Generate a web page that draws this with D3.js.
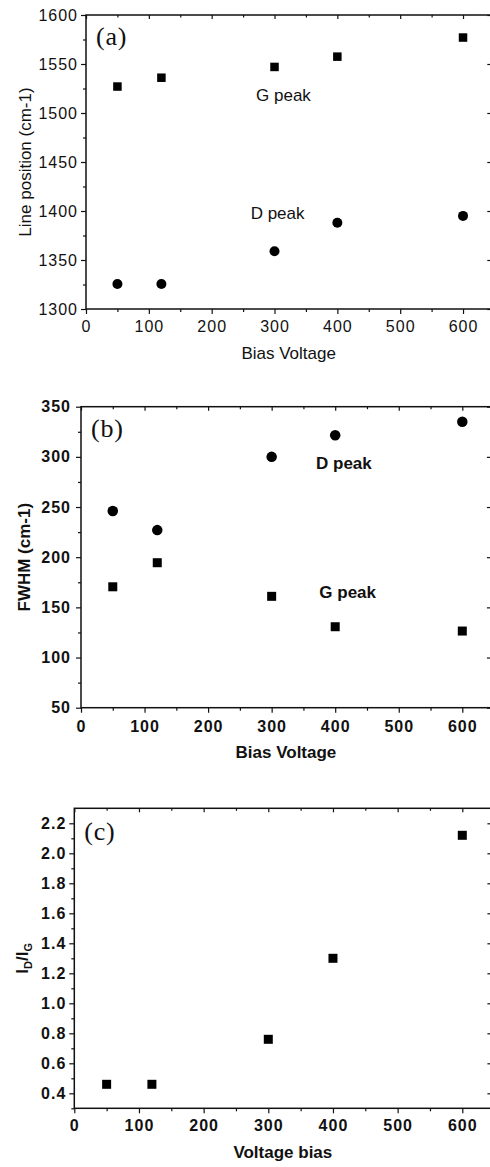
<!DOCTYPE html>
<html>
<head>
<meta charset="utf-8">
<script src="https://cdn.jsdelivr.net/npm/d3@7"></script>
<style>
  html, body { margin: 0; padding: 0; background: #fff; }
  svg { display: block; }
</style>
</head>
<body>
<svg id="chart" width="490" height="1167"></svg>
<script>
// Raman fit results versus substrate bias voltage
const biasVoltage = [50, 120, 300, 400, 600];
const gPeakPosition = [1527, 1536, 1547, 1557.5, 1577];
const dPeakPosition = [1325.5, 1325.5, 1359, 1388, 1395];
const dPeakFwhm = [246, 227, 300, 321.5, 335];
const gPeakFwhm = [170.5, 194.5, 161, 130.7, 126.4];
const intensityRatio = [0.46, 0.46, 0.76, 1.30, 2.12];

// Tick values
const voltageTicks = [0, 100, 200, 300, 400, 500, 600];
const voltageMinorTicks = [50, 150, 250, 350, 450, 550];
const positionTicks = [1300, 1350, 1400, 1450, 1500, 1550, 1600];
const positionMinorTicks = [1325, 1375, 1425, 1475, 1525, 1575];
const fwhmTicks = [50, 100, 150, 200, 250, 300, 350];
const fwhmMinorTicks = [75, 125, 175, 225, 275, 325];
const ratioTicks = [0.4, 0.6, 0.8, 1.0, 1.2, 1.4, 1.6, 1.8, 2.0, 2.2];
const ratioMinorTicks = [0.3, 0.5, 0.7, 0.9, 1.1, 1.3, 1.5, 1.7, 1.9, 2.1];

const svg = d3.select("#chart");
const SANS = "'Liberation Sans', Arial, Helvetica, sans-serif";
const SERIF = "'Liberation Serif', 'Times New Roman', serif";
const INK = "#111";

function styleAxis(sel, weight) {
  sel.select(".domain").remove();
  sel.selectAll(".tick line").attr("stroke", INK).attr("stroke-width", 1.2);
  sel.selectAll(".tick text")
    .attr("font-family", SANS).attr("font-size", 16)
    .attr("letter-spacing", 1)
    .attr("font-weight", weight).attr("fill", INK);
  sel.attr("font-family", null).attr("font-size", null);
}

function drawPanel(cfg) {
  const g = svg.append("g");
  const x = d3.scaleLinear().domain([0, 645]).range([cfg.left, cfg.right]);
  const y = d3.scaleLinear().domain(cfg.yDomain).range([cfg.bottom, cfg.top]);
  const w = cfg.weight;

  // bottom axis: labelled major ticks + minor ticks, outward
  g.append("g").attr("transform", `translate(0,${cfg.bottom})`)
    .call(d3.axisBottom(x).tickValues(voltageTicks).tickSize(5)
      .tickPadding(cfg.xPad).tickFormat(d3.format("d")))
    .call(s => styleAxis(s, w));
  g.append("g").attr("transform", `translate(0,${cfg.bottom})`)
    .call(d3.axisBottom(x).tickValues(voltageMinorTicks).tickSize(3).tickFormat(""))
    .call(s => styleAxis(s, w));

  // top axis: inward ticks, no labels
  g.append("g").attr("transform", `translate(0,${cfg.top})`)
    .call(d3.axisTop(x).tickValues(voltageTicks).tickSize(-4).tickFormat(""))
    .call(s => styleAxis(s, w));
  g.append("g").attr("transform", `translate(0,${cfg.top})`)
    .call(d3.axisTop(x).tickValues(voltageMinorTicks).tickSize(-2.5).tickFormat(""))
    .call(s => styleAxis(s, w));

  // left axis: labelled major ticks + minor ticks, outward
  g.append("g").attr("transform", `translate(${cfg.left},0)`)
    .call(d3.axisLeft(y).tickValues(cfg.yTicks).tickSize(5)
      .tickPadding(cfg.yPad).tickFormat(cfg.yFormat))
    .call(s => styleAxis(s, w));
  g.append("g").attr("transform", `translate(${cfg.left},0)`)
    .call(d3.axisLeft(y).tickValues(cfg.yMinor).tickSize(3).tickFormat(""))
    .call(s => styleAxis(s, w));

  // right axis: inward major ticks
  g.append("g").attr("transform", `translate(${cfg.right},0)`)
    .call(d3.axisRight(y).tickValues(cfg.yTicks).tickSize(-4).tickFormat(""))
    .call(s => styleAxis(s, w));

  // frame
  g.append("rect")
    .attr("x", cfg.left).attr("y", cfg.top)
    .attr("width", cfg.right - cfg.left).attr("height", cfg.bottom - cfg.top)
    .attr("fill", "none").attr("stroke", INK).attr("stroke-width", 1.5);

  // markers
  cfg.series.forEach(sr => {
    const pts = biasVoltage.map((v, i) => ({ v, val: sr.values[i] }));
    if (sr.shape === "square") {
      g.selectAll(null).data(pts).enter().append("rect")
        .attr("x", d => x(d.v) - sr.size / 2)
        .attr("y", d => y(d.val) - sr.size / 2)
        .attr("width", sr.size).attr("height", sr.size)
        .attr("fill", "#000");
    } else {
      g.selectAll(null).data(pts).enter().append("circle")
        .attr("cx", d => x(d.v)).attr("cy", d => y(d.val))
        .attr("r", sr.size / 2).attr("fill", "#000");
    }
  });

  // series annotations
  cfg.notes.forEach(n => {
    g.append("text").attr("x", x(n.at[0])).attr("y", y(n.at[1]))
      .attr("font-family", SANS).attr("font-size", 17).attr("font-weight", w)
      .attr("fill", INK).text(n.text);
  });

  // panel letter
  g.append("text").attr("x", cfg.left + 10).attr("y", cfg.letterY)
    .attr("font-family", SERIF).attr("font-size", 26).attr("letter-spacing", 0.8)
    .attr("fill", INK).text(cfg.letter);

  // x title
  g.append("text").attr("x", (cfg.left + cfg.right) / 2).attr("y", cfg.xTitleY)
    .attr("text-anchor", "middle").attr("font-family", SANS)
    .attr("font-size", 17).attr("font-weight", w).attr("fill", INK)
    .text(cfg.xTitle);

  // y title
  const yt = g.append("text")
    .attr("transform", `translate(${cfg.yTitleX},${(cfg.top + cfg.bottom) / 2}) rotate(-90)`)
    .attr("text-anchor", "middle").attr("font-family", SANS)
    .attr("font-size", 17).attr("font-weight", w).attr("fill", INK);
  cfg.yTitle(yt);
}

drawPanel({
  letter: "(a)", letterY: 45,
  left: 86, right: 491.3, top: 15, bottom: 309,
  yDomain: [1300, 1600], yTicks: positionTicks, yMinor: positionMinorTicks,
  yFormat: d3.format("d"), weight: "normal", xPad: 6.5, yPad: 3,
  xTitle: "Bias Voltage", xTitleY: 359, yTitleX: 31,
  yTitle: t => t.text("Line position (cm-1)"),
  series: [
    { values: gPeakPosition, shape: "square", size: 8.5 },
    { values: dPeakPosition, shape: "circle", size: 10 }
  ],
  notes: [
    { text: "G peak", at: [270.6, 1512] },
    { text: "D peak", at: [262, 1391.8] }
  ]
});

drawPanel({
  letter: "(b)", letterY: 437,
  left: 81, right: 490.9, top: 406.7, bottom: 707.7,
  yDomain: [50, 350], yTicks: fwhmTicks, yMinor: fwhmMinorTicks,
  yFormat: d3.format("d"), weight: "bold", xPad: 7.5, yPad: 5,
  xTitle: "Bias Voltage", xTitleY: 758, yTitleX: 30,
  yTitle: t => t.text("FWHM (cm-1)"),
  series: [
    { values: dPeakFwhm, shape: "circle", size: 10.5 },
    { values: gPeakFwhm, shape: "square", size: 9 }
  ],
  notes: [
    { text: "D peak", at: [369.8, 287.9] },
    { text: "G peak", at: [375, 159] }
  ]
});

drawPanel({
  letter: "(c)", letterY: 840,
  left: 74.3, right: 491.4, top: 808.3, bottom: 1108.3,
  yDomain: [0.3, 2.3], yTicks: ratioTicks, yMinor: ratioMinorTicks,
  yFormat: d3.format(".1f"), weight: "bold", xPad: 6, yPad: 3,
  xTitle: "Voltage bias", xTitleY: 1158, yTitleX: 28,
  yTitle: t => {
    t.append("tspan").text("I");
    t.append("tspan").attr("dy", 4).attr("font-size", 11).text("D");
    t.append("tspan").attr("dy", -4).text("/I");
    t.append("tspan").attr("dy", 4).attr("font-size", 11).text("G");
  },
  series: [
    { values: intensityRatio, shape: "square", size: 9 }
  ],
  notes: []
});
</script>
</body>
</html>
